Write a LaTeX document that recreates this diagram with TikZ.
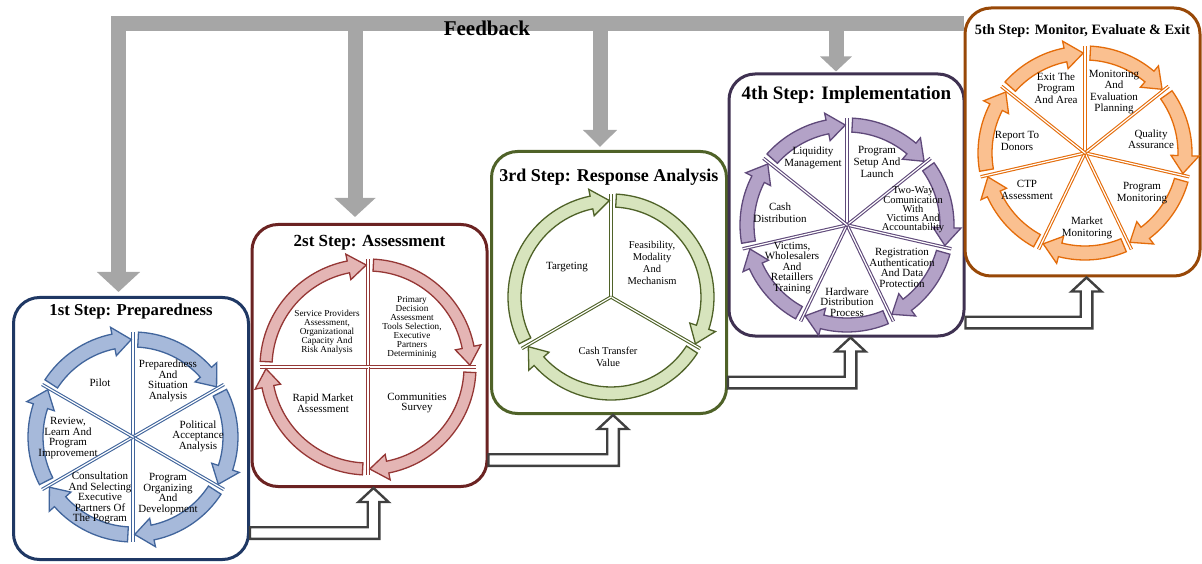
\documentclass[tikz,border=0pt]{standalone}
\usepackage{fontspec}
\setmainfont{Liberation Serif}
\usepackage{tikz}
\usetikzlibrary{arrows.meta,positioning,calc}

\definecolor{boxA}{HTML}{1F3864}
\definecolor{ringA}{HTML}{A6B9DA}
\definecolor{lineA}{HTML}{41659C}
\definecolor{boxB}{HTML}{6B2322}
\definecolor{ringB}{HTML}{E4B5B4}
\definecolor{lineB}{HTML}{953735}
\definecolor{boxC}{HTML}{4F6228}
\definecolor{ringC}{HTML}{D7E4BD}
\definecolor{lineC}{HTML}{4F6228}
\definecolor{boxD}{HTML}{3F3151}
\definecolor{ringD}{HTML}{B3A2C7}
\definecolor{lineD}{HTML}{5F497A}
\definecolor{boxE}{HTML}{984807}
\definecolor{ringE}{HTML}{FAC090}
\definecolor{lineE}{HTML}{E46C0A}
\definecolor{fbgray}{HTML}{A6A6A6}
\definecolor{conngray}{HTML}{404040}

% ring of curved arrows: {center}{outer r}{inner r}{segments}{fill}{line}
\newcommand{\stepring}[6]{%
  \begin{scope}[shift={#1}]
    \foreach \k in {1,...,#4}{
      \pgfmathsetmacro{\angS}{90-360/#4*(\k-1)}
      \draw[#6, line width=3.4pt] (0,0) -- (\angS:#2);
      \draw[white, line width=1.2pt] (0,0) -- (\angS:#2);
    }
    \foreach \k in {1,...,#4}{
      \pgfmathsetmacro{\angA}{90-360/#4*(\k-1)-3}
      \pgfmathsetmacro{\angT}{90-360/#4*\k+1}
      \pgfmathsetmacro{\rmid}{(#2+#3)/2}
      \pgfmathsetmacro{\angB}{\angT+18/\rmid*57.3}
      \pgfmathsetmacro{\rout}{#2+7}
      \pgfmathsetmacro{\rin}{#3-7}
      \filldraw[fill=#5, draw=#6, line width=1.3pt, line join=miter]
        (\angA:#2) arc[start angle=\angA, end angle=\angB, radius=#2]
        -- (\angB:\rout) -- (\angT:\rmid) -- (\angB:\rin) -- (\angB:#3)
        arc[start angle=\angB, end angle=\angA, radius=#3] -- cycle;
    }
  \end{scope}}

\begin{document}
\begin{tikzpicture}[x=1pt, y=1pt,
    stepbox/.style={draw=#1, line width=3pt, rounded corners=26pt, fill=white,
                    minimum width=235pt, minimum height=262pt, inner sep=0pt},
    steptitle/.style={inner sep=0pt},
    seglbl/.style={align=center, inner sep=0pt,
                   font=\fontsize{11}{10.5}\selectfont},
    smalllbl/.style={align=center, inner sep=0pt,
                     font=\fontsize{9.2}{9}\selectfont},
    fbarrow/.style={draw=fbgray, line width=15pt,
                    -{Triangle[width=42pt, length=20pt]}},
    fbline/.style={draw=fbgray, line width=15pt, line join=miter},
    hollowarr/.style={draw=conngray, line width=2.4pt, fill=white, line join=miter},
  ]
    \useasboundingbox (0,0) rectangle (1202,563);

    % step boxes
    \node[stepbox=boxA] (s1) at (131,134.5) {};
    \node[stepbox=boxB] (s2) at (369.5,207.5) {};
    \node[stepbox=boxC] (s3) at (609,280.5) {};
    \node[stepbox=boxD] (s4) at (846.5,358) {};
    \node[stepbox=boxE, minimum height=268pt] (s5) at (1082.5,421) {};

    % feedback bar and arrows
    \coordinate (fbend) at (s5.west |- 0,539.5);
    \coordinate (tip1) at ([xshift=-12.5pt, yshift=4pt]s1.north);
    \coordinate (tip2) at ([xshift=-14.5pt, yshift=6pt]s2.north);
    \coordinate (tip3) at ([xshift=-9pt, yshift=3pt]s3.north);
    \coordinate (tip4) at ([xshift=-10.5pt, yshift=1pt]s4.north);
    \draw[fbline] (fbend) -- (fbend -| tip1) -- ([yshift=10pt]tip1);
    \draw[fbarrow] ([yshift=10pt]tip1) -- (tip1);
    \draw[fbarrow, -{Triangle[width=40pt, length=19pt]}] (fbend -| tip2) -- (tip2);
    \draw[fbarrow, -{Triangle[width=33pt, length=17pt]}] (fbend -| tip3) -- (tip3);
    \draw[fbarrow, -{Triangle[width=31pt, length=15pt]}] (fbend -| tip4) -- (tip4);
    \node[font=\fontsize{21}{23}\selectfont\bfseries, inner sep=0pt]
      (fb) at (487,535) {Feedback};

    % hollow step connectors
    \foreach \a/\b in {s1/s2, s2/s3, s3/s4, s4/s5}
      \draw[hollowarr] let \p1=(\a.east), \p2=([xshift=4pt]\b.south) in
        (\x1,\y2-39.2pt) -- (\x2-5.8pt,\y2-39.2pt) -- (\x2-5.8pt,\y2-14pt)
        -- (\x2-15pt,\y2-14pt) -- (\p2) -- (\x2+15pt,\y2-14pt)
        -- (\x2+5.8pt,\y2-14pt) -- (\x2+5.8pt,\y2-50.8pt)
        -- (\x1,\y2-50.8pt) -- cycle;

    % titles
    \node[steptitle, font=\fontsize{16.7}{18}\selectfont\bfseries]
      (t1) at ([yshift=-15.5pt]s1.north) {1st Step: Preparedness};
    \node[steptitle, font=\fontsize{17}{18}\selectfont\bfseries]
      (t2) at ([yshift=-20pt]s2.north) {2st Step: Assessment};
    \node[steptitle, font=\fontsize{18}{20}\selectfont\bfseries]
      (t3) at ([yshift=-27pt]s3.north) {3rd Step: Response Analysis};
    \node[steptitle, font=\fontsize{19}{21}\selectfont\bfseries]
      (t4) at ([yshift=-22pt]s4.north) {4th Step: Implementation};
    \node[steptitle, font=\fontsize{14.3}{16}\selectfont\bfseries]
      (t5) at ([yshift=-25pt]s5.north) {5th Step: Monitor, Evaluate \& Exit};

    % rings
    \stepring{(133,126)}{105}{90}{6}{ringA}{lineA}
    \stepring{(368,196)}{108}{96}{4}{ringB}{lineB}
    \stepring{(611,266)}{103}{90}{3}{ringC}{lineC}
    \stepring{(847,338)}{107}{93}{7}{ringD}{lineD}
    \stepring{(1085,410)}{107}{93}{7}{ringE}{lineE}

    % step 1 labels
    \node[seglbl] (p1) at (100,180) {Pilot};
    \node[seglbl] (p2) at (168,182) {Preparedness\\And\\Situation\\Analysis};
    \node[seglbl] (p3) at (198,127) {Political\\Acceptance\\Analysis};
    \node[seglbl] (p4) at (168,69) {Program\\Organizing\\And\\Development};
    \node[seglbl] (p5) at (100,65) {Consultation\\And Selecting\\Executive\\Partners Of\\The Pogram};
    \node[seglbl] (p6) at (68,125) {Review,\\Learn And\\Program\\Improvement};

    % step 2 labels
    \node[smalllbl] (a1) at (327,231) {Service Providers\\Assessment,\\Organizational\\Capacity And\\Risk Analysis};
    \node[smalllbl] (a2) at (412,236) {Primary\\Decision\\Assessment\\Tools Selection,\\Executive\\Partners\\Determininig};
    \node[seglbl] (a3) at (323,160) {Rapid Market\\Assessment};
    \node[seglbl] (a4) at (417,160) {Communities\\Survey};

    % step 3 labels
    \node[seglbl, font=\fontsize{11}{12}\selectfont] (r1) at (567,296) {Targeting};
    \node[seglbl, font=\fontsize{10.5}{12}\selectfont] (r2) at (652,300) {Feasibility,\\Modality\\And\\Mechanism};
    \node[seglbl, font=\fontsize{10.5}{12}\selectfont] (r3) at (608,206) {Cash Transfer\\Value};

    % step 4 labels
    \node[seglbl, font=\fontsize{11}{12}\selectfont] (i1) at (813,405) {Liquidity\\Management};
    \node[seglbl, font=\fontsize{11}{12}\selectfont] (i2) at (877,401) {Program\\Setup And\\Launch};
    \node[seglbl, font=\fontsize{10.5}{9}\selectfont] (i3) at (913,353) {Two-Way\\Comunication\\With\\Victims And\\Accountability};
    \node[seglbl] (i4) at (902,295) {Registration\\Authentication\\And Data\\Protection};
    \node[seglbl] (i5) at (847,261) {Hardware\\Distribution\\Process};
    \node[seglbl] (i6) at (792,295) {Victims,\\Wholesalers\\And\\Retaillers\\Training};
    \node[seglbl, font=\fontsize{11}{12}\selectfont] (i7) at (780,350) {Cash\\Distribution};

    % step 5 labels
    \node[seglbl, font=\fontsize{11}{11.5}\selectfont] (m1) at (1056,475) {Exit The\\Program\\And Area};
    \node[seglbl, font=\fontsize{11}{11.5}\selectfont] (m2) at (1114,471) {Monitoring\\And\\Evaluation\\Planning};
    \node[seglbl, font=\fontsize{11}{11.5}\selectfont] (m3) at (1151,424) {Quality\\Assurance};
    \node[seglbl, font=\fontsize{11}{11.5}\selectfont] (m4) at (1142,370) {Program\\Monitoring};
    \node[seglbl, font=\fontsize{11}{11.5}\selectfont] (m5) at (1087,335) {Market\\Monitoring};
    \node[seglbl, font=\fontsize{11}{11.5}\selectfont] (m6) at (1027,373) {CTP\\Assessment};
    \node[seglbl, font=\fontsize{11}{11.5}\selectfont] (m7) at (1017,422) {Report To\\Donors};
  \end{tikzpicture}
\end{document}
